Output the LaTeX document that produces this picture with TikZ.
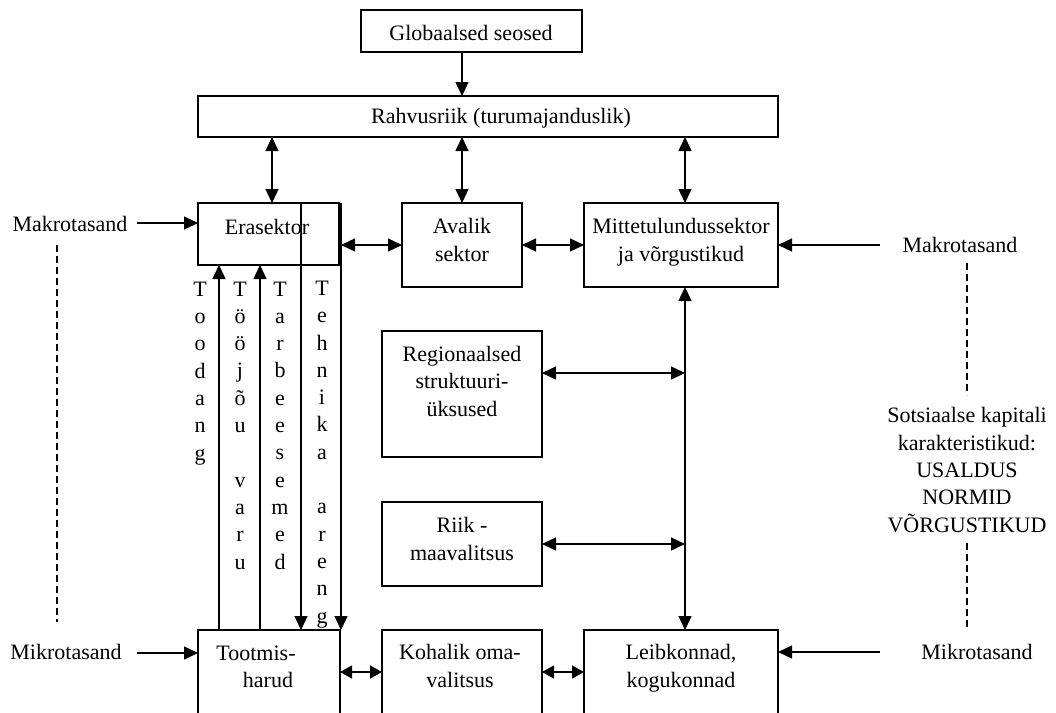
\documentclass[tikz,border=0pt]{standalone}
\usepackage{fontspec}
\setmainfont{Liberation Serif}
\usetikzlibrary{arrows.meta}
\begin{document}
\begin{tikzpicture}[x=1pt,y=-1pt,
  font=\fontsize{22}{27.3}\selectfont,
  box/.style={draw, line width=1.4pt, anchor=north west, inner sep=0pt, outer sep=0pt},
  txt/.style={inner sep=0pt, anchor=base, align=center},
  arr/.style={line width=1.4pt, -{Triangle[length=14pt,width=13pt]}},
  darr/.style={line width=1.4pt, {Triangle[length=14pt,width=13pt]}-{Triangle[length=14pt,width=13pt]}},
  sdarr/.style={line width=1.4pt, {Triangle[length=12pt,width=13pt]}-{Triangle[length=12pt,width=13pt]}},
  dashline/.style={line width=1.4pt, dash pattern=on 7pt off 4pt}]
\useasboundingbox (0,0) rectangle (1056,712);
\clip (0,0) rectangle (1056,712);
% boxes
\node[box, minimum width=221pt, minimum height=42pt] (glob) at (361,10) {};
\node[box, minimum width=580pt, minimum height=41pt] (rahv) at (198,96) {};
\node[box, minimum width=141pt, minimum height=62pt] (era) at (198,203) {};
\node[box, minimum width=120pt, minimum height=84pt] (aval) at (402,203) {};
\node[box, minimum width=194pt, minimum height=84pt] (mitte) at (584,203) {};
\node[box, minimum width=160pt, minimum height=126pt] (reg) at (382,331) {};
\node[box, minimum width=160pt, minimum height=84pt] (riik) at (382,502) {};
\node[box, minimum width=142pt, minimum height=100pt] (toot) at (198,630) {};
\node[box, minimum width=160pt, minimum height=100pt] (koh) at (382,630) {};
\node[box, minimum width=194pt, minimum height=100pt] (leib) at (584,630) {};
% texts (anchor base = baseline of the last line)
\node[txt] (tglob) at (471,40) {Globaalsed seosed};
\node[txt] (trahv) at (501,123) {Rahvusriik (turumajanduslik)};
\node[txt] (tera) at (267,234) {Erasektor};
\node[txt] (taval) at (462,261) {Avalik\\sektor};
\node[txt] (tmitte) at (681,261) {Mittetulundussektor\\ja võrgustikud};
\node[txt] (treg) at (462,416) {Regionaalsed\\struktuuri-\\üksused};
\node[txt] (triik) at (462,560) {Riik -\\maavalitsus};
\node[txt] (ttoot1) at (256,660) {Tootmis-};
\node[txt] (ttoot2) at (268,687) {harud};
\node[txt] (tkoh) at (460,687) {Kohalik oma-\\valitsus};
\node[txt] (tleib) at (681,687) {Leibkonnad,\\kogukonnad};
\node[txt] (makL) at (70,231) {Makrotasand};
\node[txt] (makR) at (960,252) {Makrotasand};
\node[txt] (mikL) at (66,659) {Mikrotasand};
\node[txt] (mikR) at (977,659) {Mikrotasand};
\node[txt] (sots) at (967,532) {Sotsiaalse kapitali\\karakteristikud:\\USALDUS\\NORMID\\VÕRGUSTIKUD};
% vertical labels
\node[txt] (toodang) at (200,460) {T\\o\\o\\d\\a\\n\\g};
\node[txt] (tooju) at (240,569) {T\\ö\\ö\\j\\õ\\u\\\mbox{}\\v\\a\\r\\u};
\node[txt] (tarb) at (280,569) {T\\a\\r\\b\\e\\e\\s\\e\\m\\e\\d};
\node[txt] (tehn) at (322,623) {T\\e\\h\\n\\i\\k\\a\\\mbox{}\\a\\r\\e\\n\\g};
% coordinates
\coordinate (t1) at (341,203);
\coordinate (v1) at (685,373);
\coordinate (v2) at (685,544);
\coordinate (mkL) at (137,223);
\coordinate (mkR) at (880,245);
\coordinate (miL) at (137,653);
\coordinate (miR) at (880,652);
\coordinate (dL1) at (57,245);
\coordinate (dL2) at (57,622);
\coordinate (dR1) at (967,263);
\coordinate (dR2) at (967,395);
\coordinate (dR3) at (967,543);
\coordinate (dR4) at (967,628);
% connectors
\draw[arr] (glob.south -| 462,0) -- (rahv.north -| 462,0);
\draw[darr] (rahv.south -| 272,0) -- (era.north -| 272,0);
\draw[darr] (rahv.south -| 462,0) -- (aval.north -| 462,0);
\draw[darr] (rahv.south -| 685,0) -- (mitte.north -| 685,0);
\draw[darr] (t1 |- 0,245) -- (aval.west |- 0,245);
\draw[darr] (aval.east |- 0,245) -- (mitte.west |- 0,245);
\draw[arr] (era.north -| 301,0) -- (toot.north -| 301,0);
\draw[arr] (t1) -- (toot.north -| t1);
\draw[arr] (toot.north -| 219,0) -- (era.south -| 219,0);
\draw[arr] (toot.north -| 260,0) -- (era.south -| 260,0);
\draw[darr] (mitte.south -| 685,0) -- (leib.north -| 685,0);
\draw[darr] (reg.east |- v1) -- (v1);
\draw[darr] (riik.east |- v2) -- (v2);
\draw[sdarr] (toot.east |- 0,672) -- (koh.west |- 0,672);
\draw[sdarr] (koh.east |- 0,672) -- (leib.west |- 0,672);
\draw[arr] (mkL) -- (era.west |- mkL);
\draw[arr] (mkR) -- (mitte.east |- mkR);
\draw[arr] (miL) -- (toot.west |- miL);
\draw[arr] (miR) -- (leib.east |- miR);
\draw[dashline] (dL1) -- (dL2);
\draw[dashline] (dR1) -- (dR2);
\draw[dashline] (dR3) -- (dR4);
\end{tikzpicture}
\end{document}
